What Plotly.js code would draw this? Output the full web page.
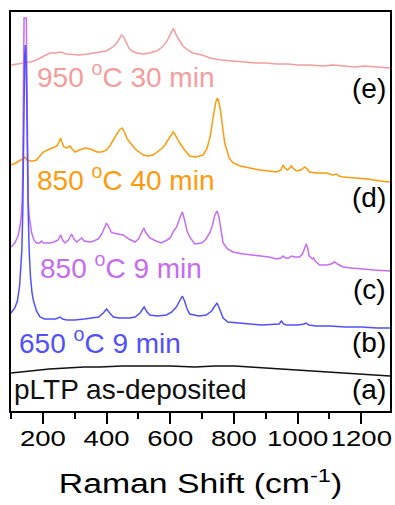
<!DOCTYPE html>
<html>
<head>
<meta charset="utf-8">
<script src="https://cdn.plot.ly/plotly-3.0.1.min.js"></script>
<style>html,body{margin:0;padding:0;background:#fff;}#chart{width:395px;height:505px;}</style>
</head>
<body>
<div id="chart"></div>
<script>
// Raman shift (cm-1) and offset-stacked intensity (a.u.) for each sample
const shiftA = [100,130,170,220,275,330,379,450,536,600,677,740,802,850,900,950,990,1050,1100,1147,1200,1250,1290];
const intA   = [38,39,41,42,43,44,44,45,45,45,44,45,45,44,43,42,41,40,39,38,37,36,35];

const shiftB = [100,112,120,127,131,134,137,139,141,143,145,147,149,151,154,157,161,166,170,180,191,205,222,240,254,262,275,300,330,358,375,390,400,410,421,440,473,490,505,518,527,536,560,588,605,619,630,638,645,653,661,690,713,730,740,747,755,766,781,808,850,886,933,942,949,956,964,1000,1020,1027,1035,1058,1100,1150,1200,1250,1290];
const intB   = [98,103,110,125,145,161,200,260,320,355,366,355,320,260,200,161,135,118,111,100,94,92,92,92,94,92,91,91,92,93,94,98,102,98,94,93,93,94,98,104,99,96,95,96,99,104,110,115,110,102,97,95,96,100,105,108,102,93,89,88,87,86,87,87,90,87,86,86,87,88,86,85,85,84,84,83,83];

const shiftC = [100,112,122,128,132,135,137,139,140,141,148,149,150,152,154,157,160,165,172,180,190,196,202,215,222,235,248,256,262,269,280,290,298,306,314,322,330,348,360,374,385,393,400,407,414,421,435,452,470,489,500,510,517,524,536,555,572,590,600,609,620,630,638,645,653,661,677,698,710,724,733,740,747,753,760,766,780,797,830,860,881,910,933,948,954,962,972,980,990,1006,1015,1022,1027,1032,1036,1040,1046,1050,1055,1069,1090,1105,1116,1125,1142,1170,1200,1240,1290];
const intC   = [164,168,175,184,194,210,240,300,360,393,393,360,300,240,210,195,186,178,171,168,168,170,168,168,168,169,171,176,171,168,171,177,172,169,171,173,170,169,170,172,177,184,188,184,179,178,177,176,172,169,172,178,183,178,173,170,168,171,173,179,184,193,199,191,180,174,167,168,171,178,186,196,200,194,178,168,162,159,157,156,155,154,152,153,155,153,153,155,154,154,157,163,167,162,155,154,152,153,150,146,146,147,149,147,144,143,142,141,140];

const shiftD = [100,115,130,139,144,150,160,170,180,190,201,215,233,245,252,256,260,266,275,285,292,301,315,332,350,369,385,400,412,421,432,440,449,456,465,473,490,515,530,546,560,575,583,595,604,609,614,620,630,645,661,680,703,715,725,732,738,743,748,753,758,764,771,785,797,820,849,880,910,933,948,954,960,968,975,980,988,996,1010,1022,1030,1037,1060,1090,1110,1121,1130,1142,1180,1220,1260,1290];
const intD   = [246,248,251,252,254,251,250,250,251,255,259,261,263,265,270,273,269,264,263,265,262,259,261,263,262,259,259,261,266,271,277,281,283,279,272,269,262,256,255,256,259,263,266,272,277,279,277,273,268,261,255,254,256,262,274,288,300,309,313,309,300,282,268,253,248,245,243,241,240,239,241,246,243,241,243,245,242,240,241,244,242,239,238,238,236,237,235,234,233,232,230,229];

const shiftE = [100,120,140,160,180,200,222,240,254,275,300,316,340,358,380,400,415,430,440,447,454,462,470,480,495,515,535,557,575,588,598,605,609,614,620,630,640,655,671,700,724,760,800,828,870,900,933,970,1000,1037,1080,1110,1142,1180,1210,1246,1270,1290];
const intE   = [346,347,348,349,351,354,358,358,359,357,356,356,357,358,359,360,363,367,372,376,374,368,363,360,358,357,358,360,364,369,375,380,382,380,375,370,365,361,358,356,353,351,350,349,348,348,347,347,346,346,345,346,345,344,345,344,343,343];

const sampleLabels = ['pLTP as-deposited','650 <sup>o</sup>C 9 min','850 <sup>o</sup>C 9 min','850 <sup>o</sup>C 40 min','950 <sup>o</sup>C 30 min'];
const panelLetters = ['(a)','(b)','(c)','(d)','(e)'];
const xTicks = [200,400,600,800,1000,1200];
const xMinor = [100,300,500,700,900,1100];

const colors = {a:'#111111', b:'#5050FF', c:'#C76BF2', d:'#FF9A0D', e:'#F59C9C'};
const FONT = 'Liberation Sans, Arial, sans-serif';

function tr(x, y, c){ return {x:x, y:y, type:'scatter', mode:'lines', line:{color:c, width:1.5}, hoverinfo:'skip', showlegend:false}; }
const data = [
  tr(shiftA, intA, colors.a),
  tr(shiftE, intE, colors.e),
  tr(shiftD, intD, colors.d),
  tr(shiftC, intC, colors.c),
  tr(shiftB, intB, colors.b)
];

// plot area in pixels: left 11, right 390.5, top 12, bottom 411
const L=11, R=390.5, T=12, B=411;
const px = v => (v - L)/(R - L);
const py = v => (B - v)/(B - T);
const labelPos = [ [12,389], [17,341], [38,266], [35,178], [35,75] ];
const letterPos = [389, 342, 289, 197, 88];
const cols = [colors.a, colors.b, colors.c, colors.d, colors.e];
const annotations = [];
for (let i=0;i<5;i++){
  annotations.push({text:sampleLabels[i], xref:'paper', yref:'paper', x:px(labelPos[i][0]), y:py(labelPos[i][1]), xanchor:'left', yanchor:'middle', showarrow:false, font:{family:FONT, size:28, color:cols[i]}});
  annotations.push({text:panelLetters[i], xref:'paper', yref:'paper', x:px(388), y:py(letterPos[i]), xanchor:'right', yanchor:'middle', showarrow:false, font:{family:FONT, size:28, color:'#000'}});
}

const layout = {
  width:395, height:505,
  margin:{l:L, r:395-R, t:T, b:505-B},
  paper_bgcolor:'#fff', plot_bgcolor:'#fff',
  font:{family:FONT, color:'#000'},
  xaxis:{range:[100,1290], tickmode:'array', tickvals:xTicks, ticktext:xTicks.map(String),
    ticks:'outside', ticklen:11, tickwidth:2, tickcolor:'#000', ticklabelstandoff:-4,
    minor:{tickmode:'array', tickvals:xMinor, ticks:'outside', ticklen:6, tickwidth:2, tickcolor:'#000', showgrid:false},
    showline:true, linewidth:2, linecolor:'#000', mirror:true, showgrid:false, zeroline:false,
    tickfont:{family:FONT, size:22, color:'#000'},
    title:{text:'Raman Shift (cm<sup>-1</sup>)', font:{family:FONT, size:27, color:'#000'}, standoff:24}},
  yaxis:{range:[0,399], showticklabels:false, ticks:'', showline:true, linewidth:2, linecolor:'#000', mirror:true, showgrid:false, zeroline:false},
  annotations:annotations
};

// the reference figure's axis texts are horizontally stretched
function stretch(sel, k){
  document.querySelectorAll(sel).forEach(el => {
    const b = el.getBBox();
    const cx = b.x + b.width/2;
    const t = el.getAttribute('transform') || '';
    el.setAttribute('transform', t + ' translate(' + cx + ',0) scale(' + k + ',1) translate(' + (-cx) + ',0)');
  });
}
Plotly.newPlot('chart', data, layout, {staticPlot:true, displayModeBar:false}).then(() => {
  stretch('#chart .xtick text', 1.25);
  stretch('#chart text.xtitle', 1.25);
});
</script>
</body>
</html>
